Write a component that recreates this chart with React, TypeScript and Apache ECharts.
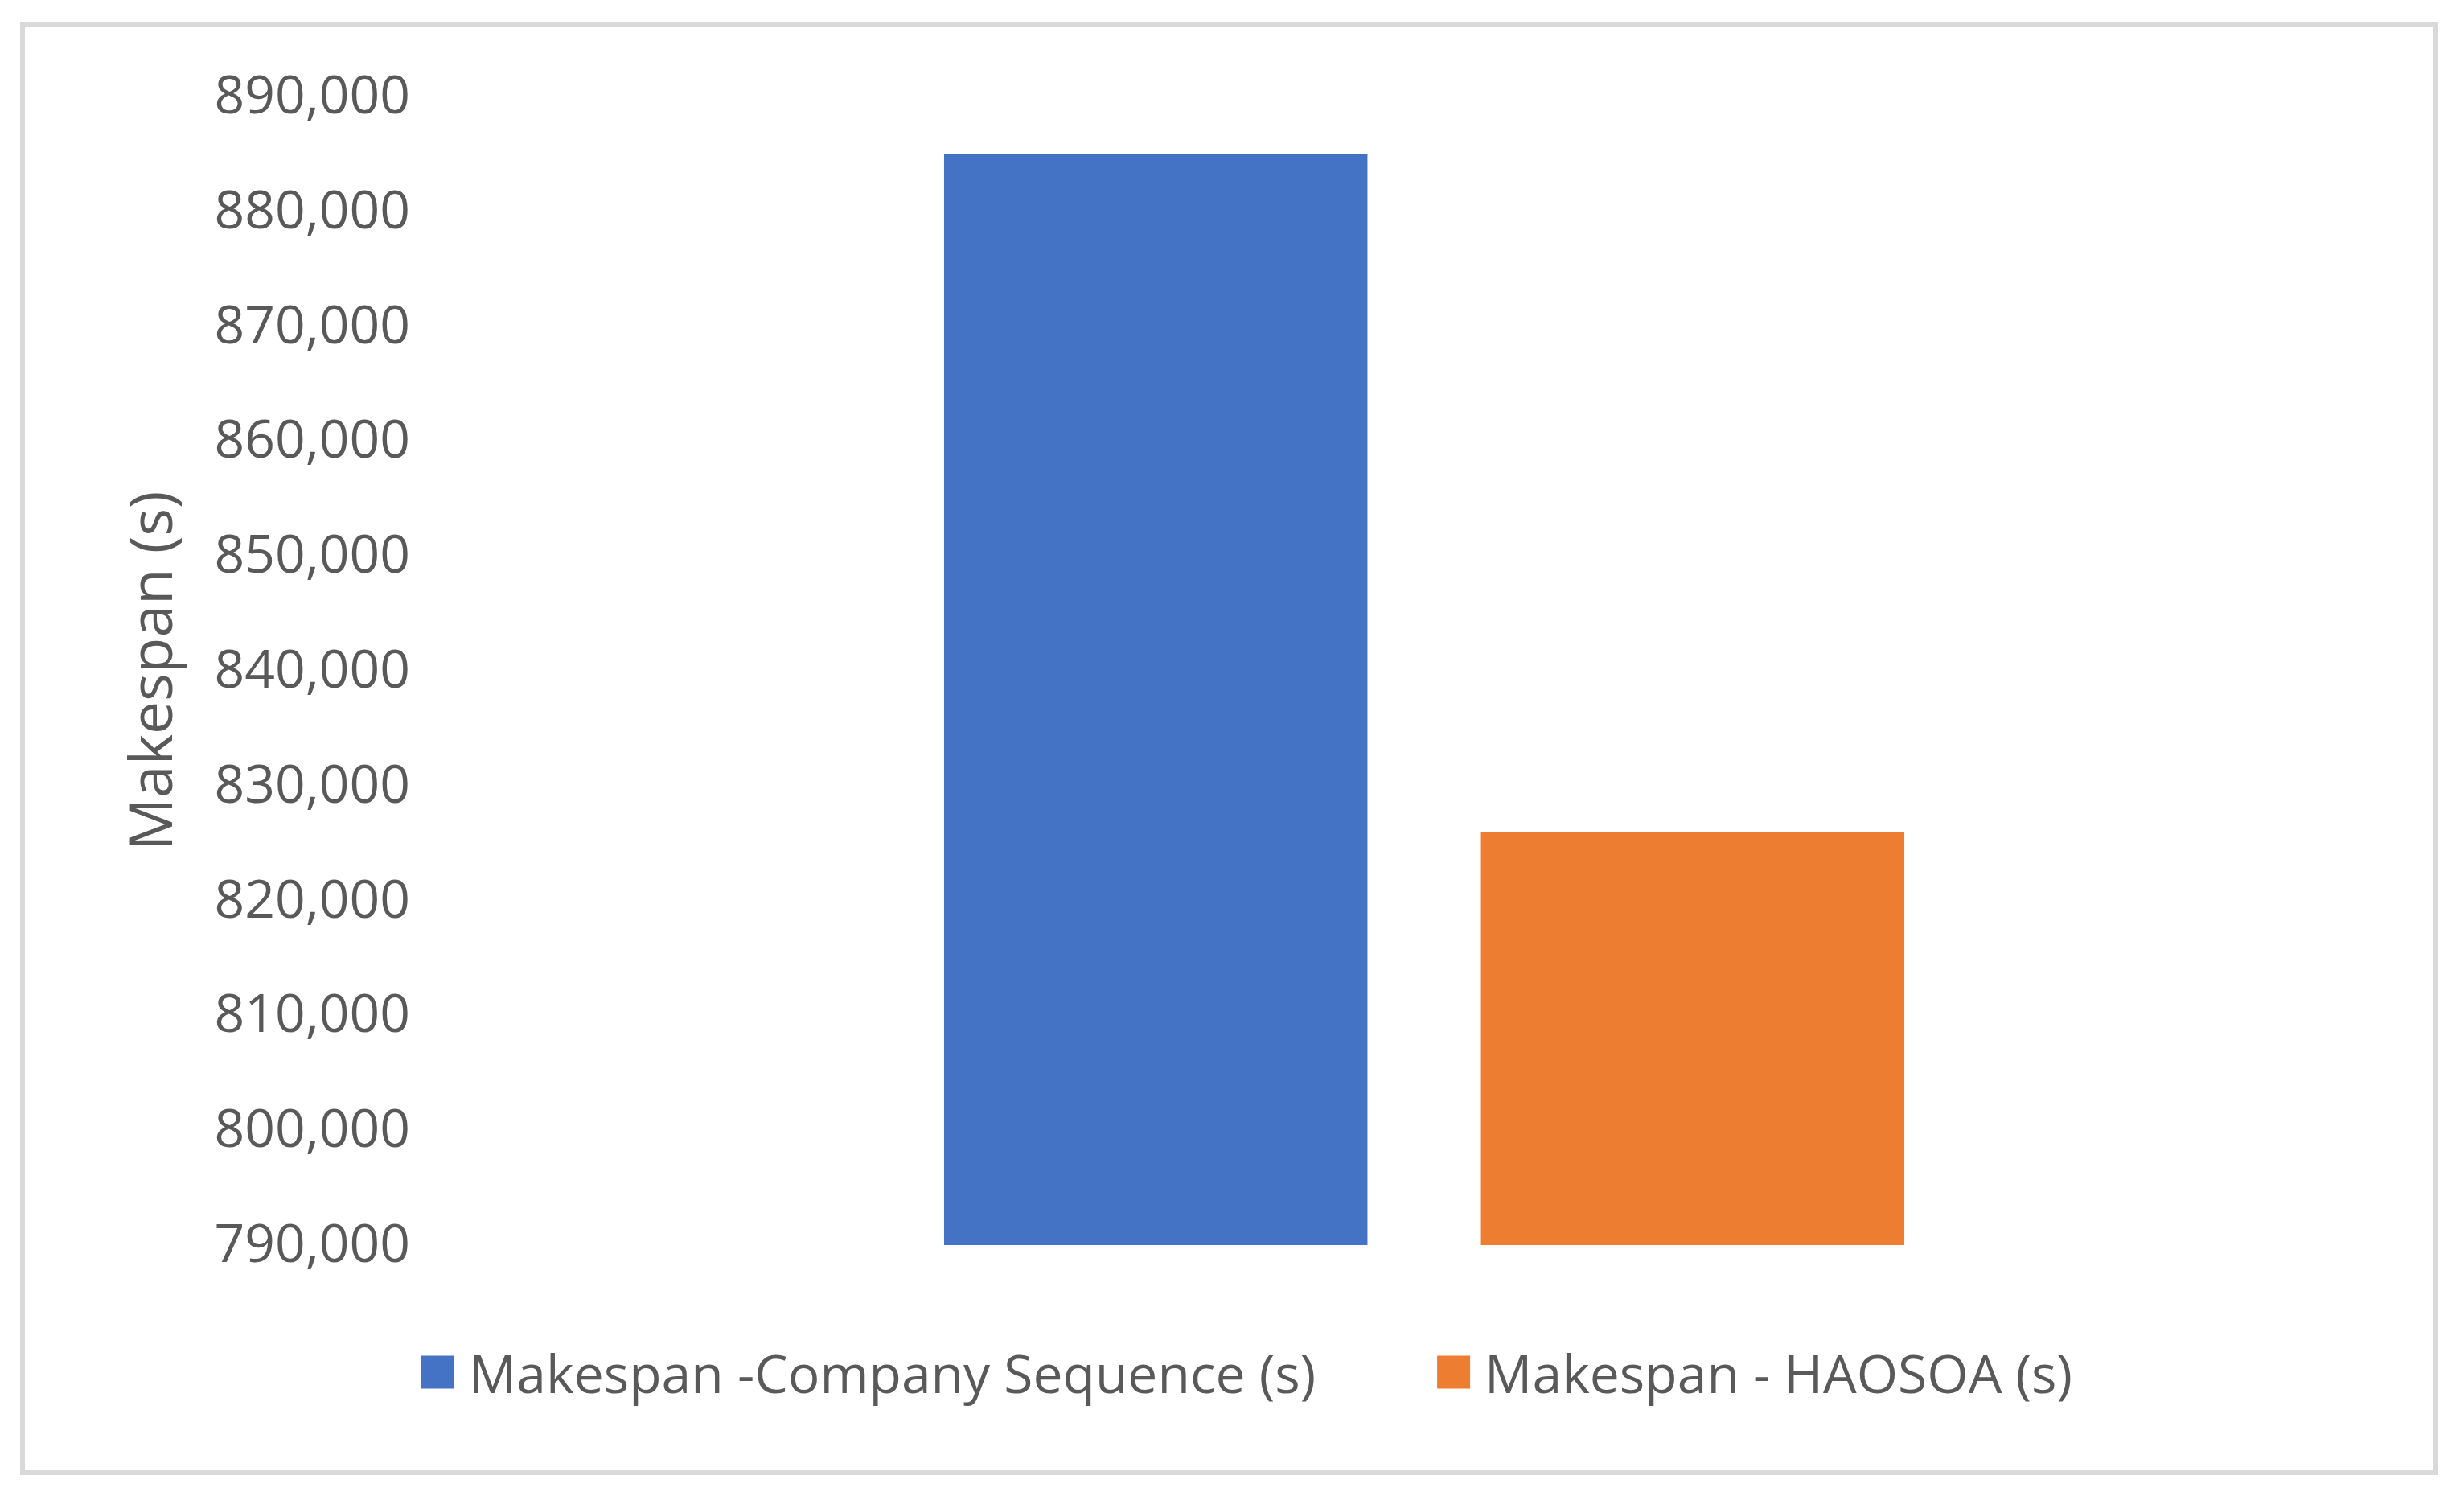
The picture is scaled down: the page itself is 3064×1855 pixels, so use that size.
import React, { useEffect, useRef } from "react";
import * as echarts from "echarts";

const categories = [""];
const seriesNames = ["Makespan -Company Sequence (s)", "Makespan - HAOSOA (s)"];
const companyValues = [885000];
const haosoaValues = [826000];
const yMin = 790000;
const yMax = 890000;
const yInterval = 10000;

export default function App() {
  const ref = useRef<HTMLDivElement>(null);
  useEffect(() => {
    document.body.style.margin = "0";
    const chart = echarts.init(ref.current!, null, { renderer: "svg" });
    const font = "'Open Sans', 'Noto Sans', sans-serif";
    chart.setOption({
      animation: false,
      backgroundColor: "#ffffff",
      textStyle: { fontFamily: font },
      graphic: [
        {
          type: "rect",
          shape: { x: 28, y: 30, width: 3001, height: 1801 },
          style: { fill: "none", stroke: "#d9d9d9", lineWidth: 6 },
          silent: true,
        },
      ],
      grid: { left: 540, right: 62, top: 120, bottom: 307, containLabel: false },
      legend: {
        data: seriesNames,
        left: 519,
        top: 1668,
        icon: "rect",
        itemWidth: 41,
        itemHeight: 41,
        itemGap: 151,
        textStyle: {
          fontFamily: font,
          fontSize: 66,
          color: "#595959",
          padding: [0, 0, 0, 13],
        },
      },
      xAxis: {
        type: "category",
        data: categories,
        axisLine: { show: false },
        axisTick: { show: false },
        axisLabel: { show: false },
      },
      yAxis: {
        type: "value",
        min: yMin,
        max: yMax,
        interval: yInterval,
        name: "Makespan (s)",
        nameLocation: "middle",
        nameRotate: 90,
        nameGap: 318,
        nameTextStyle: { fontFamily: font, fontSize: 73, color: "#595959" },
        axisLine: { show: false },
        axisTick: { show: false },
        splitLine: { show: false },
        axisLabel: {
          fontFamily: font,
          fontSize: 66,
          color: "#595959",
          margin: 30,
          formatter: (v: number) => "{v|" + v.toLocaleString("en-US") + "}",
          rich: {
            v: {
              fontFamily: font,
              fontSize: 66,
              color: "#595959",
              padding: [0, 0, 10, 0],
            },
          },
        },
      },
      series: [
        {
          name: seriesNames[0],
          type: "bar",
          data: companyValues,
          itemStyle: { color: "#4472C4" },
          barGap: "26.8%",
          barCategoryGap: "51.5%",
        },
        {
          name: seriesNames[1],
          type: "bar",
          data: haosoaValues,
          itemStyle: { color: "#ED7D31" },
          barGap: "26.8%",
          barCategoryGap: "51.5%",
        },
      ],
    });
    return () => chart.dispose();
  }, []);
  return (
    <div
      ref={ref}
      style={{ position: "fixed", left: 0, top: 0, width: 3064, height: 1855 }}
    />
  );
}
